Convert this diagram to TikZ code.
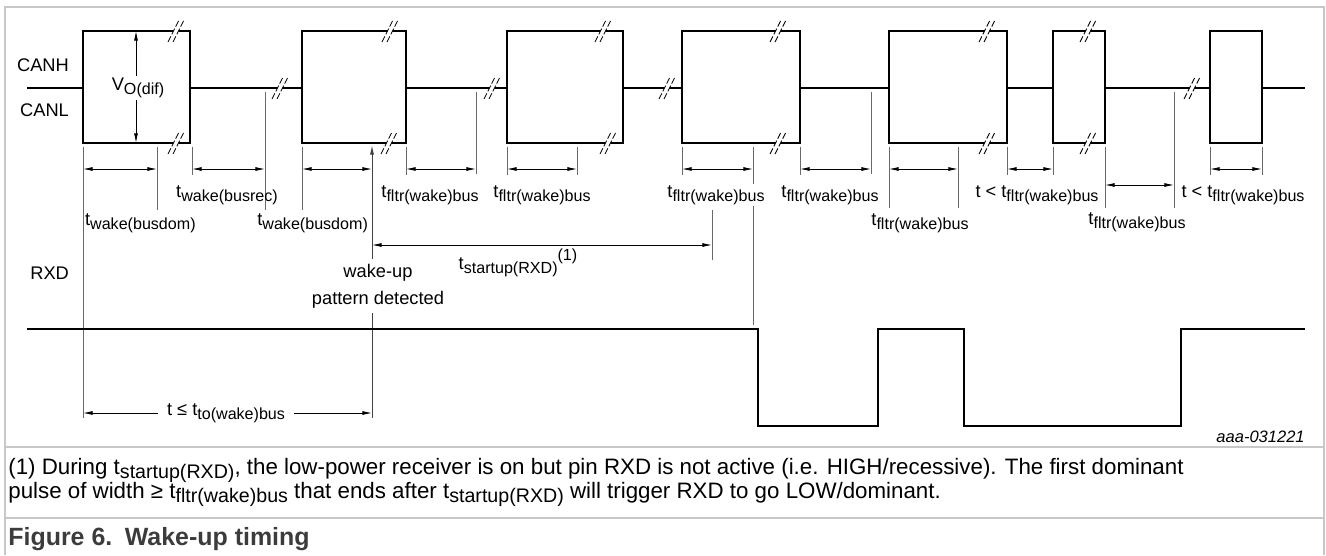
\documentclass[tikz,border=0pt]{standalone}
\usepackage{fontspec}
\usepackage{graphicx}
\setmainfont{Liberation Sans}
\usetikzlibrary{arrows.meta}
\definecolor{framegray}{RGB}{200,200,200}
\definecolor{extgray}{RGB}{105,105,105}
\definecolor{capgray}{RGB}{60,60,60}
\newcommand\lo[1]{\raisebox{-0.38ex}{\scalebox{0.88}{#1}}}
\newcommand\hi[1]{\raisebox{0.9ex}{\scalebox{0.88}{#1}}}

\begin{document}
\begin{tikzpicture}[x=0.02cm,y=-0.02cm,>={Latex[length=5.5pt,width=2.3pt]},
    sig/.style={line width=1.6pt},
    ext/.style={draw=extgray,line width=0.55pt},
    dim/.style={<->,line width=0.5pt},
    lbl/.style={font=\fontsize{10.4}{15.5}\selectfont,inner sep=1pt},
    note/.style={font=\fontsize{12.7}{15}\selectfont,anchor=base west,inner sep=0pt},
    brkmark/.pic={
        \fill[white] (-5,5)--(0,-5)--(5,-5)--(0,5)--cycle;
        \draw[line width=0.5pt,dash pattern=on 3.6pt off 1.3pt] (-8,11)--(3,-11) (-3,11)--(8,-11);}]
    \useasboundingbox (0,0) rectangle (1326,555);
    % frame
    \draw[framegray,line width=1.2pt] (5,555)--(5,7)--(1324,7)--(1324,555);
    \draw[framegray,line width=1.2pt] (5,447)--(1324,447) (5,518)--(1324,518);
    % CANH / CANL
    \draw[sig] (27,88)--(83,88) (190,88)--(302,88) (406,88)--(507,88) (623,88)--(682,88)
        (800,88)--(889,88) (1007,88)--(1053,88) (1105,88)--(1210,88) (1262,88)--(1305,88);
    \foreach \a/\b in {83/190,302/406,507/623,682/800,889/1007,1053/1105,1210/1262}
        \draw[sig] (\a,31) rectangle (\b,143);
    \foreach \x/\y in {176/31,176/143,280/88,390/31,389/143,492/88,603/31,608/143,667/88,
        778/31,778/143,987/31,987/143,1088/31,1088/143,1192/88}
        \pic at (\x,\y) {brkmark};
    \node[lbl,anchor=east] (canh) at (71,65) {CANH};
    \node[lbl,anchor=east] (canl) at (71,110) {CANL};
    \draw[dim] (136,31)--(136,143);
    \node[lbl,fill=white] (vodif) at (138,88) {V\lo{O(dif)}};
    % extension lines
    \draw[ext] (83,147)--(83,418) (157,147)--(157,210) (192,147)--(192,175) (265,92)--(265,210)
        (302,147)--(302,210) (406,147)--(406,175) (476,92)--(476,174) (507,147)--(507,175)
        (577,147)--(577,175) (682,147)--(682,175) (753,147)--(753,325) (712,210)--(712,260)
        (800,147)--(800,175) (871,92)--(871,174) (889,147)--(889,208) (958,147)--(958,208)
        (1007,147)--(1007,175) (1053,147)--(1053,175) (1105,147)--(1105,208) (1174,92)--(1174,208)
        (1210,147)--(1210,175) (1262,147)--(1262,175);
    % time intervals
    \draw[dim] (83,169)--(157,169);
    \draw[dim] (192,169)--(265,169);
    \draw[dim] (302,169)--(372,169);
    \draw[dim] (406,169)--(476,169);
    \draw[dim] (507,169)--(577,169);
    \draw[dim] (682,169)--(753,169);
    \draw[dim] (800,169)--(871,169);
    \draw[dim] (889,169)--(958,169);
    \draw[dim] (1007,169)--(1053,169);
    \draw[dim] (1105,185)--(1174,185);
    \draw[dim] (1210,169)--(1262,169);
    \node[lbl,anchor=west] (busdomA) at (83,223) {t\lo{wake(busdom)}};
    \node[lbl] (busrec) at (227,195) {t\lo{wake(busrec)}};
    \node[lbl,anchor=east] (busdomB) at (370,223) {t\lo{wake(busdom)}};
    \node[lbl] (fltrA) at (430,195) {t\lo{fltr(wake)bus}};
    \node[lbl] (fltrB) at (542,195) {t\lo{fltr(wake)bus}};
    \node[lbl,fill=white] (fltrC) at (716,195) {t\lo{fltr(wake)bus}};
    \node[lbl] (fltrD) at (830,195) {t\lo{fltr(wake)bus}};
    \node[lbl] (fltrE) at (920,223) {t\lo{fltr(wake)bus}};
    \node[lbl] (shortA) at (1037,195) {t < t\lo{fltr(wake)bus}};
    \node[lbl] (fltrF) at (1137,222) {t\lo{fltr(wake)bus}};
    \node[lbl] (shortB) at (1243,195) {t < t\lo{fltr(wake)bus}};
    % wake-up detection
    \draw[ext,draw=black!75,->] (372,418)--(372,145);
    \node[lbl,fill=white,align=center,inner ysep=3pt] (wakeup) at (378,286) {wake-up\\pattern detected};
    \draw[dim] (372,245)--(712,245);
    \node[lbl] (startup) at (518,263) {t\lo{startup(RXD)}\hi{(1)}};
    \draw[dim] (83,413)--(372,413);
    \node[lbl,fill=white,inner xsep=5pt] (timeout) at (226,413) {t ≤ t\lo{to(wake)bus}};
    % RXD
    \node[lbl,anchor=east] (rxd) at (71,273) {RXD};
    \draw[sig] (27,329)--(758,329)--(758,426)--(878,426)--(878,329)--(964,329)--(964,426)
        --(1181,426)--(1181,329)--(1305,329);
    \node[font=\fontsize{9.4}{10}\selectfont\itshape,anchor=east,inner sep=0pt] (docid) at (1305,437) {aaa-031221};
    % note and caption
    \node[note] (noteA) at (8,474)
        {(1) During t\lo{startup(RXD)}, the low-power receiver is on but pin RXD is not active (i.e. HIGH/recessive). The first dominant};
    \node[note] (noteB) at (8,498)
        {pulse of width ≥ t\lo{fltr(wake)bus} that ends after t\lo{startup(RXD)} will trigger RXD to go LOW/dominant.};
    \node[font=\fontsize{14.2}{16}\selectfont\bfseries,text=capgray,anchor=base west,inner sep=0pt] (caption) at (8,545)
        {Figure 6.\enspace Wake-up timing};
\end{tikzpicture}
\end{document}
